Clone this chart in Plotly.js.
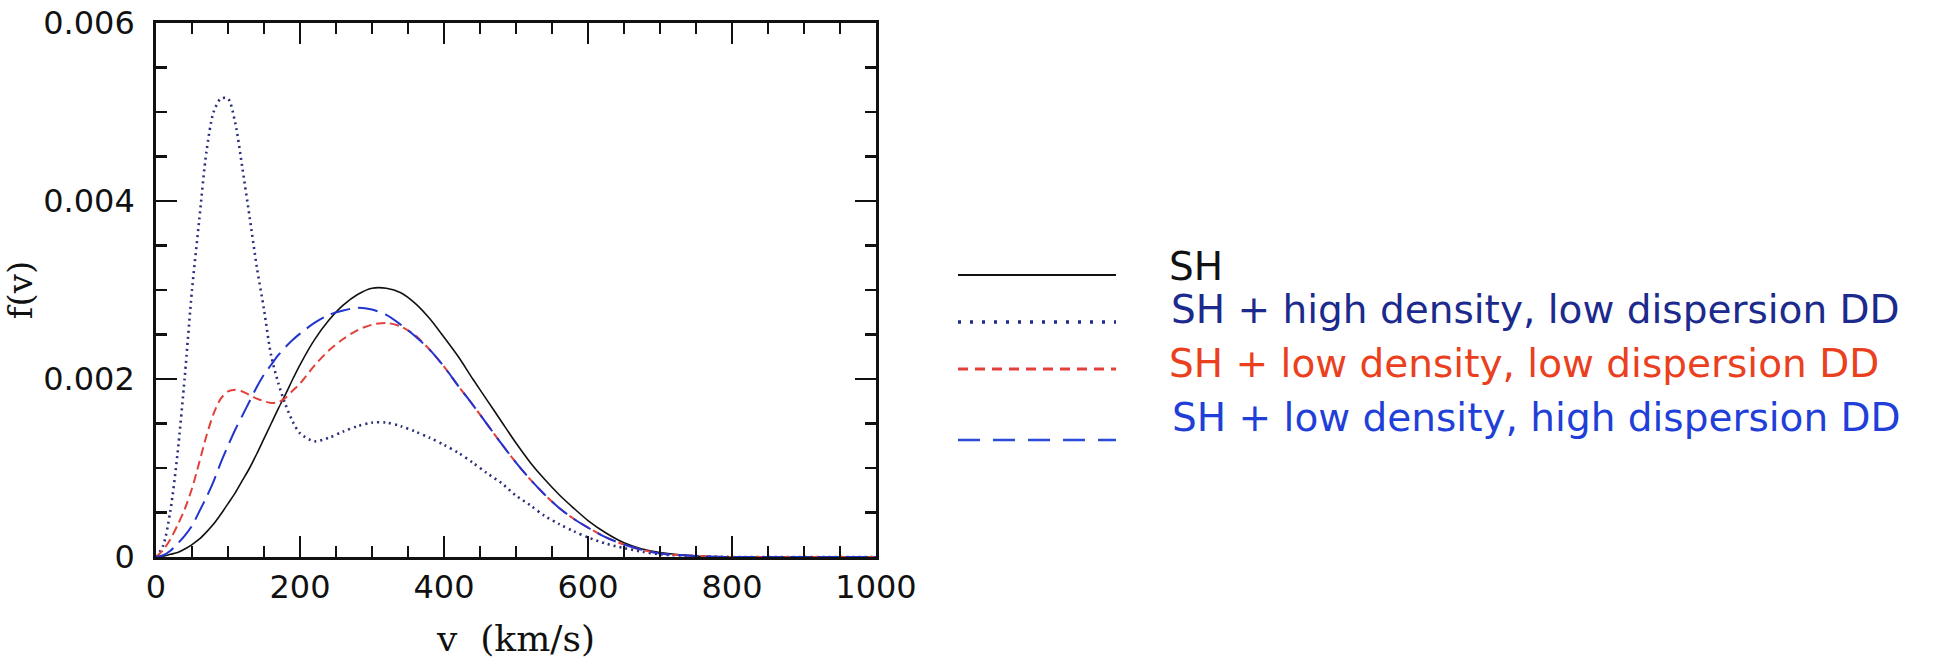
<!DOCTYPE html>
<html>
<head>
<meta charset="utf-8">
<script src="https://cdn.plot.ly/plotly-3.0.1.min.js"></script>
<style>
  html, body { margin: 0; padding: 0; background: #ffffff; }
  #chart { width: 1939px; height: 659px; }
</style>
</head>
<body>
<div id="chart"></div>
<script>
// ---------------- data ----------------
const v = [0, 10, 20, 30, 40, 50, 60, 70, 80, 90, 100, 110, 120, 130, 140, 150, 160, 170, 180, 190,
           200, 220, 240, 260, 280, 300, 320, 340, 360, 380, 400, 420, 440, 460, 480, 500, 520, 540,
           560, 580, 600, 625, 650, 675, 700, 750, 800, 900, 1000];

const fSH = [0, 0.00001, 0.00003, 0.00005, 0.00009, 0.00014, 0.0002, 0.00028, 0.00037, 0.00048,
             0.0006, 0.00072, 0.00086, 0.001, 0.00116, 0.00133, 0.0015, 0.00167, 0.00183, 0.002,
             0.00216, 0.00244, 0.00266, 0.00283, 0.00295, 0.00302, 0.00302, 0.00297, 0.00285, 0.00268,
             0.00247, 0.00225, 0.002, 0.00176, 0.00152, 0.00128, 0.00106, 0.00087, 0.0007, 0.00055,
             0.00041, 0.00027, 0.00016, 0.00009, 0.00005, 0.00001, 0, 0, 0];

const fHighDensLowDisp = [0, 0.00013, 0.00052, 0.00117, 0.00203, 0.003, 0.00378, 0.00455, 0.005, 0.00515,
             0.00515, 0.00488, 0.00437, 0.00382, 0.00326, 0.00278, 0.00226, 0.00195, 0.00171, 0.00152,
             0.00139, 0.0013, 0.00134, 0.00141, 0.00147, 0.00151, 0.00151, 0.00147, 0.00141, 0.00134,
             0.00126, 0.00117, 0.00106, 0.00094, 0.00083, 0.00069, 0.00058, 0.00046, 0.00037, 0.00029,
             0.00022, 0.00015, 0.0001, 0.00006, 0.00003, 0.00001, 0, 0, 0];

const fLowDensLowDisp = [0, 0.00008, 0.0002, 0.00036, 0.00054, 0.00077, 0.00106, 0.00136, 0.00161, 0.00178,
             0.00186, 0.00188, 0.00186, 0.00182, 0.00178, 0.00175, 0.00173, 0.00174, 0.00179, 0.00187,
             0.00195, 0.00215, 0.00232, 0.00245, 0.00255, 0.00261, 0.00263, 0.00259, 0.00249, 0.00233,
             0.00214, 0.00192, 0.00171, 0.00149, 0.00127, 0.00106, 0.00087, 0.0007, 0.00055, 0.00043,
             0.00033, 0.00022, 0.00014, 0.00008, 0.00004, 0.00001, 0, 0, 0];

const fLowDensHighDisp = [0, 0.00002, 0.00007, 0.00015, 0.00024, 0.00035, 0.00051, 0.00067, 0.00085, 0.00106,
             0.00125, 0.00143, 0.00159, 0.00175, 0.00191, 0.00205, 0.00216, 0.00227, 0.00236, 0.00244,
             0.00251, 0.00263, 0.00272, 0.00277, 0.0028, 0.00278, 0.00272, 0.00261, 0.00248, 0.00233,
             0.00214, 0.00192, 0.00171, 0.00149, 0.00127, 0.00106, 0.00087, 0.0007, 0.00055, 0.00043,
             0.00033, 0.00022, 0.00014, 0.00008, 0.00004, 0.00001, 0, 0, 0];

const seriesNames = [
  "SH",
  "SH + high density, low dispersion DD",
  "SH + low density, low dispersion DD",
  "SH + low density, high dispersion DD"
];
const xTickVals = [0, 200, 400, 600, 800, 1000];
const yTickVals = [0, 0.002, 0.004, 0.006];
const yTickText = ["0", "0.002", "0.004", "0.006"];

// ---------------- styles ----------------
const seriesY = [fSH, fHighDensLowDisp, fLowDensLowDisp, fLowDensHighDisp];
const lineColors = ["#111111", "#2c3078", "#e4403a", "#2234d0"];
const lineDash = ["solid", "2px,4px", "9px,5px", "20px,8px"];
const lineWidth = [1.6, 2.6, 2.0, 2.0];
const textColors = ["#111111", "#1b2a8c", "#ea401e", "#1f3fd8"];
const legendColors = ["#111111", "#1f2a8a", "#e4403a", "#2a4ad8"];
const legendDash = ["solid", "3px,9px", "10px,7px", "22px,13px"];
const legendLineW = [2.0, 3.5, 3.0, 2.5];

const traces = seriesY.map((ys, i) => ({
  type: "scatter",
  mode: "lines",
  x: v,
  y: ys,
  name: seriesNames[i],
  line: { color: lineColors[i], width: lineWidth[i], dash: lineDash[i], shape: "spline", smoothing: 0.8 },
  showlegend: false,
  hoverinfo: "skip"
}));

// plot frame in pixels: x 156..876, y 23..557
const L = 156, R = 876, T = 23, B = 557;
const W = 1939, H = 659;
const px = X => (X - L) / (R - L);
const py = Y => (B - Y) / (B - T);

// legend geometry (pixels)
const legLineX0 = 958, legLineX1 = 1116;
const legLineY = [275, 322, 369, 440];
const legTextX = [1167, 1169, 1167, 1170];
const legTextY = [266, 309, 363, 418];

const shapes = [];
const annotations = [];
for (let i = 0; i < 4; i++) {
  shapes.push({
    type: "line", xref: "paper", yref: "paper",
    x0: px(legLineX0), x1: px(legLineX1), y0: py(legLineY[i]), y1: py(legLineY[i]),
    line: { color: legendColors[i], width: legendLineW[i], dash: legendDash[i] }
  });
  annotations.push({
    xref: "paper", yref: "paper", x: px(legTextX[i]), y: py(legTextY[i]),
    xanchor: "left", yanchor: "middle", showarrow: false,
    text: seriesNames[i],
    font: { family: "DejaVu Sans", size: 39, color: textColors[i] }
  });
}

const axisCommon = {
  showline: true, linecolor: "#111", linewidth: 2.8, mirror: "ticks",
  ticks: "inside", ticklen: 21, tickwidth: 2.6, tickcolor: "#111",
  showgrid: false, zeroline: false,
  tickfont: { family: "DejaVu Sans", size: 32, color: "#111" }
};

const layout = {
  width: W, height: H,
  margin: { l: L, r: W - R, t: T, b: H - B, pad: 0 },
  paper_bgcolor: "#ffffff", plot_bgcolor: "#ffffff",
  showlegend: false,
  xaxis: Object.assign({}, axisCommon, {
    range: [0, 1000], tickmode: "array", tickvals: xTickVals,
    minor: { dtick: 50, ticks: "inside", ticklen: 11, tickwidth: 2.2, tickcolor: "#111" },
    ticklabelstandoff: 0,
    title: { text: "v&nbsp; (km/s)", font: { family: "DejaVu Serif", size: 36, color: "#111" }, standoff: 22 }
  }),
  yaxis: Object.assign({}, axisCommon, {
    range: [0, 0.006], tickmode: "array", tickvals: yTickVals, ticktext: yTickText,
    minor: { dtick: 0.0005, ticks: "inside", ticklen: 11, tickwidth: 2.2, tickcolor: "#111" },
    ticklabelstandoff: 12,
    title: { text: "f(v)", font: { family: "DejaVu Serif", size: 34, color: "#111" }, standoff: 2 }
  }),
  shapes: shapes,
  annotations: annotations
};

Plotly.newPlot("chart", traces, layout, { displayModeBar: false, staticPlot: true });
</script>
</body>
</html>
